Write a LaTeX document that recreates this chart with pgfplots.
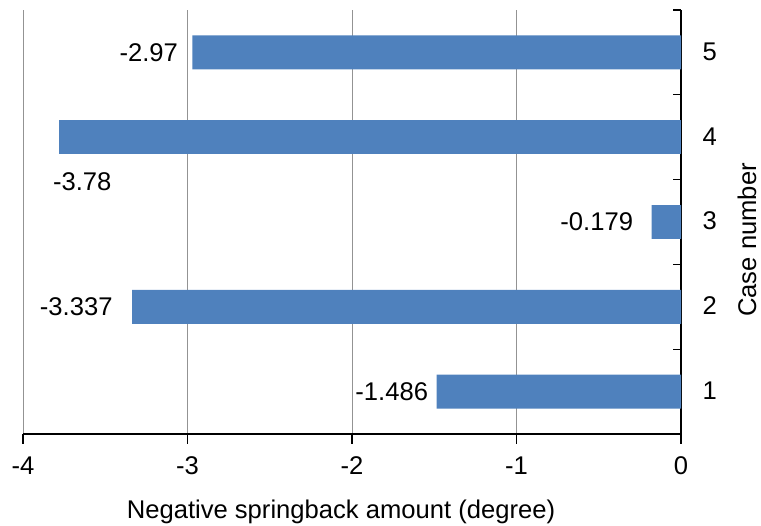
\documentclass[border=0pt]{standalone}
\usepackage{pgfplots}
\pgfplotsset{compat=1.18}
\usepackage{fontspec}
\setmainfont{Liberation Sans}
\definecolor{barblue}{HTML}{4F81BD}

\begin{document}
\begin{tikzpicture}[font=\fontsize{25.6}{30}\selectfont]
\begin{axis}[
  width=658pt, height=424pt, scale only axis,
  xmin=-4, xmax=0, ymin=0.5, ymax=5.5,
  axis x line*=bottom, axis y line*=right,
  axis line style={black, line width=1.3pt},
  /pgf/number format/assume math mode=true,
  xtick={-4,-3,-2,-1,0},
  xmajorgrids, grid style={gray!85, line width=1pt},
  ytick={1,2,3,4,5},
  minor ytick={0.5,1.5,2.5,3.5,4.5,5.5},
  tick align=outside,
  major tick length=10pt, minor tick length=8pt,
  major y tick style={draw=none},
  minor y tick style={black, line width=1.3pt, xshift=-8pt},
  major x tick style={black, line width=1.3pt},
  yticklabel style={xshift=8pt, yshift=1pt},
  xticklabel style={yshift=-9pt},
  xlabel={Negative springback amount (degree)},
  ylabel={Case number},
  every axis y label/.style={at={(rel axis cs:1,0.5)}, xshift=66pt, yshift=-18pt, rotate=90, anchor=center, inner sep=0pt},
  every axis x label/.style={at={(rel axis cs:0.5,0)}, yshift=-78pt, xshift=-11pt, anchor=center, inner sep=0pt},
  clip=false,
  point meta=explicit symbolic,
  nodes near coords,
]
% cases 1, 2, 3 and 5, labelled at the bar end
\addplot[xbar, bar width=0.4, bar shift=0pt, fill=barblue, draw=none,
  visualization depends on={\thisrow{dx} \as \dx},
  nodes near coords style={anchor=east, xshift=\dx pt, text=black}]
  table[meta=lab] {
x y lab dx
-1.486 1 -1.486 -5
-3.337 2 -3.337 -16
-0.179 3 -0.179 -15
-2.97 5 -2.97 -11
};
% case 4 reaches the left edge, so its label sits under the bar
\addplot[xbar, bar width=0.4, bar shift=0pt, fill=barblue, draw=none,
  nodes near coords style={anchor=center, xshift=23pt, yshift=-44pt, text=black}]
  table[meta=lab] {
x y lab
-3.78 4 -3.78
};
\coordinate (bl) at (rel axis cs:0,0);
\coordinate (tr) at (rel axis cs:1,1);
\end{axis}
\pgfresetboundingbox
\useasboundingbox ([shift={(-23pt,-92pt)}]bl) rectangle ([shift={(80pt,10pt)}]tr);
\end{tikzpicture}
\end{document}
